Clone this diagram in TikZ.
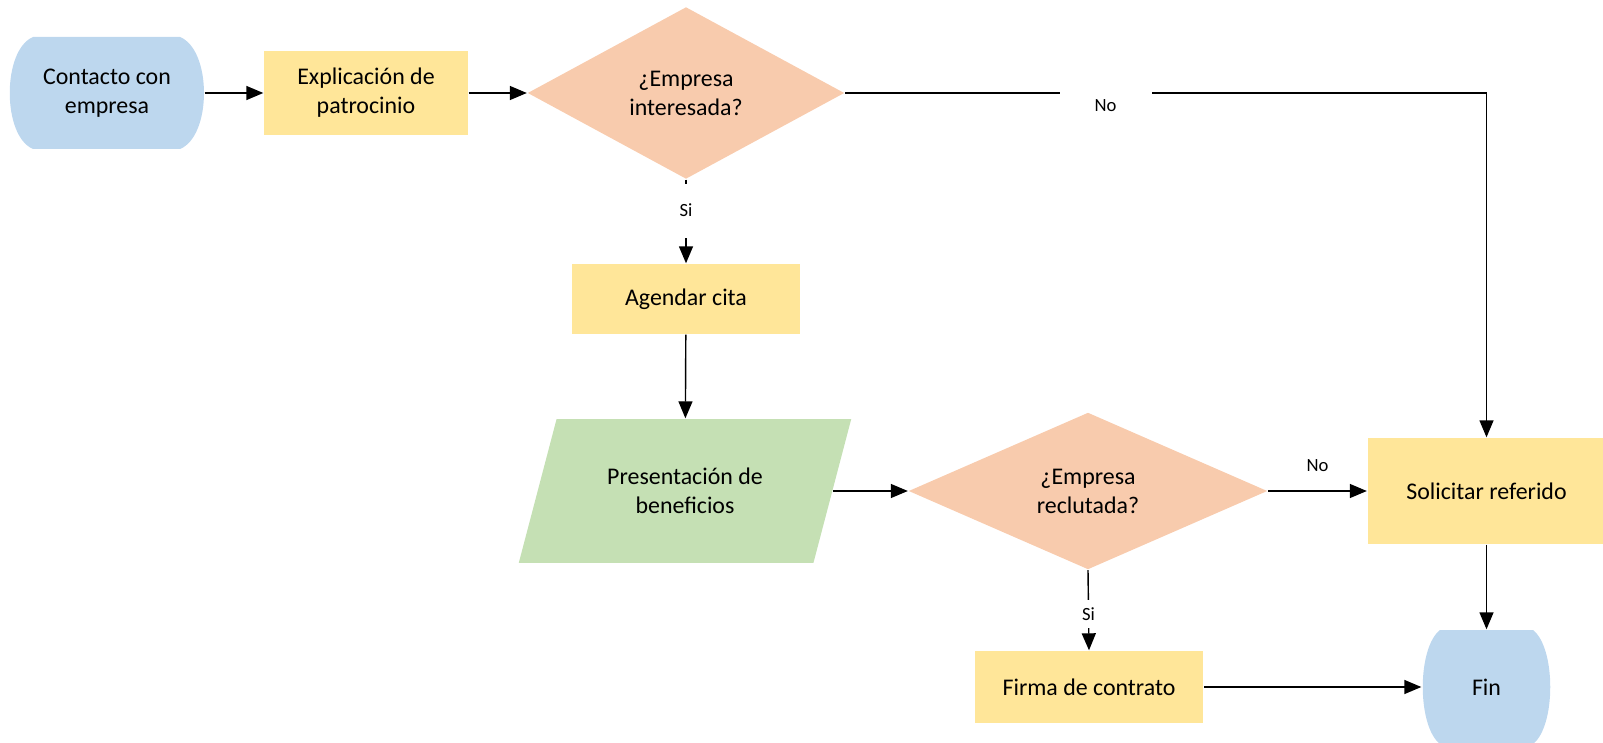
\documentclass[tikz,border=0pt]{standalone}
\usepackage{fontspec}
\setmainfont{Carlito}
\usepackage{tikz}
\usetikzlibrary{shapes.geometric,arrows.meta}

\definecolor{azul}{HTML}{BDD7EE}
\definecolor{amarillo}{HTML}{FFE699}
\definecolor{salmon}{HTML}{F8CBAD}
\definecolor{verde}{HTML}{C5E0B4}

\begin{document}
\begin{tikzpicture}[x=0.02cm, y=-0.02cm, line width=0.8pt, >={Triangle[length=3.4mm,width=2.8mm]}]
\tikzstyle{every node} = [align=center, inner sep=0pt, font=\fontsize{13.6}{16.5}\selectfont]
\tikzstyle{inicio} = [rectangle]
\tikzstyle{proceso} = [rectangle, fill=amarillo]
\tikzstyle{decision} = [diamond, fill=salmon]
\tikzstyle{datos} = [trapezium, trapezium left angle=63.4, trapezium right angle=116.6, trapezium stretches=true, fill=verde]
\tikzstyle{etiqueta} = [fill=white, font=\fontsize{10.6}{12}\selectfont]
\useasboundingbox (0,0) rectangle (1603,743);

% fondo de los terminales
\fill[azul] (33,37) -- (180,37) .. controls (212,50) and (212,136) .. (180,149) -- (33,149) .. controls (2,136) and (2,50) .. (33,37);
\fill[azul] (1440,630) -- (1533,630) .. controls (1556,648) and (1556,726) .. (1533,744) -- (1440,744) .. controls (1417,726) and (1417,648) .. (1440,630);

\node[inicio, minimum width=3.88cm, minimum height=2.24cm] (contacto) at (107,93) {Contacto con\\empresa};
\node[proceso, minimum width=4.08cm, minimum height=1.68cm] (explicacion) at (366,93) {Explicación de\\patrocinio};
\node[decision, minimum width=6.34cm, minimum height=3.44cm] (interesada) at (686,93) {¿Empresa\\interesada?};
\node[proceso, minimum width=4.56cm, minimum height=1.40cm] (agendar) at (686,299) {Agendar cita};
\node[datos, minimum width=6.66cm, minimum height=2.88cm] (presentacion) at (685,491) {Presentación de\\beneficios};
\node[decision, minimum width=7.18cm, minimum height=3.14cm] (reclutada) at (1088,491) {¿Empresa\\reclutada?};
\node[proceso, minimum width=4.76cm, minimum height=2.12cm] (solicitar) at (1486.5,491) {Solicitar referido};
\node[proceso, minimum width=4.58cm, minimum height=1.44cm] (firma) at (1089,687) {Firma de contrato};
\node[inicio, minimum width=2.58cm, minimum height=2.28cm] (fin) at (1486.5,687) {Fin};

% conectores
\draw [->] (contacto) -- (explicacion);
\draw [->] (explicacion) -- (interesada);
\draw [->] (interesada.east) -| (solicitar.north) node[etiqueta, pos=0.203, minimum width=1.84cm, minimum height=1.2cm, yshift=-0.26cm] {No};
\draw [->] (interesada.south) -- (agendar.north) node[etiqueta, pos=0.37, minimum height=1.08cm] {Si};
\draw [->] (agendar) -- (presentacion);
\draw [->] (presentacion.east) -- (reclutada.west);
\draw [->] (reclutada.east) -- (solicitar.west) node[etiqueta, pos=0.5, above=0.38cm, fill=none] {No};
\draw [->] (reclutada.south) -- (firma.north) node[etiqueta, pos=0.55, minimum height=0.56cm] {Si};
\draw [->] (firma) -- (fin);
\draw [->] (solicitar) -- (fin);
\end{tikzpicture}
\end{document}
